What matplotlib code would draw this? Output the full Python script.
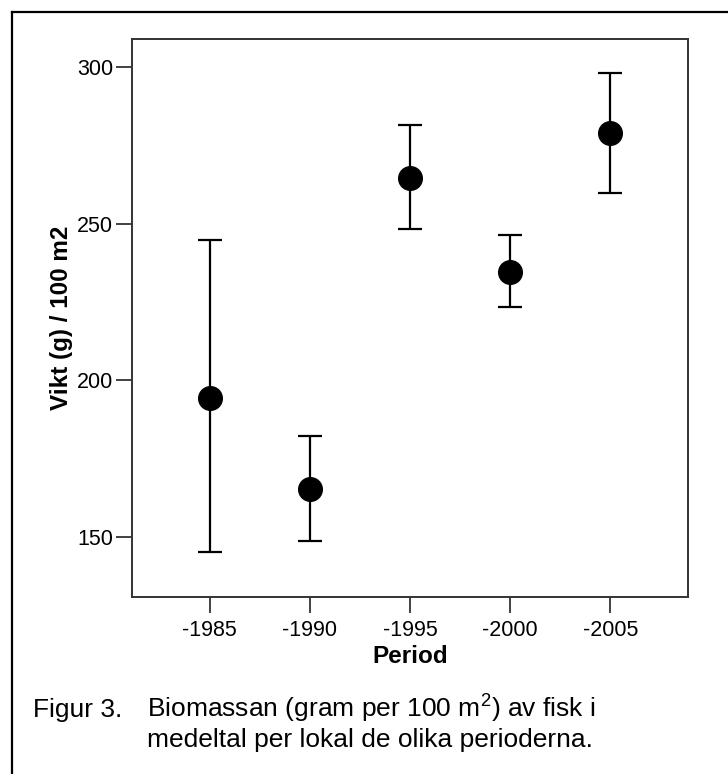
import matplotlib
matplotlib.use('Agg')
import matplotlib.pyplot as plt
from matplotlib.lines import Line2D

plt.rcParams['font.family'] = ['Liberation Sans', 'DejaVu Sans']
plt.rcParams['mathtext.fontset'] = 'custom'
plt.rcParams['mathtext.rm'] = 'Liberation Sans'

periods = ['-1985', '-1990', '-1995', '-2000', '-2005']
means = [194.5, 165.3, 264.7, 234.6, 278.8]
upper = [244.7, 182.2, 281.5, 246.4, 298.2]
lower = [145.1, 148.8, 248.2, 223.4, 259.8]

W, H = 728, 774
fig = plt.figure(figsize=(W / 100, H / 100), dpi=100)
ax = fig.add_axes([132 / W, 1 - 597 / H, (688 - 132) / W, (597 - 39) / H])

x = list(range(len(periods)))
yerr = [[m - lo for m, lo in zip(means, lower)], [u - m for m, u in zip(means, upper)]]
ax.errorbar(x, means, yerr=yerr, fmt='o', color='black', ms=17, ecolor='black',
            elinewidth=1.6, capsize=8.6, capthick=1.6)

ax.set_xlim(-0.775, 4.775)
ax.set_ylim(130.9, 308.9)
ax.set_xticks(x)
ax.set_xticklabels(periods)
ax.set_yticks([150, 200, 250, 300])
ax.tick_params(axis='both', direction='out', length=11.5, width=1.3, colors='#333333',
               labelcolor='black', labelsize=15.5)
ax.tick_params(axis='y', pad=2)
ax.tick_params(axis='x', pad=5)
for s in ax.spines.values():
    s.set_linewidth(1.4)
    s.set_color('#333333')

ax.set_xlabel('Period', fontsize=17.5, fontweight='bold', labelpad=3)
ax.set_ylabel('Vikt (g) / 100 m2', fontsize=17.5, fontweight='bold', labelpad=3)

# caption
fig.text(33 / W, 1 - 717 / H, 'Figur 3.', fontsize=19, va='baseline', ha='left')
fig.text(147 / W, 1 - 717 / H, r'Biomassan (gram per 100 m$^\mathrm{2}$) av fisk i', fontsize=19,
         va='baseline', ha='left')
fig.text(147 / W, 1 - 747 / H, 'medeltal per lokal de olika perioderna.', fontsize=19,
         va='baseline', ha='left')

# outer frame (top and left edges only visible)
fig.add_artist(Line2D([12 / W, 1.0], [1 - 12 / H, 1 - 12 / H], color='black', lw=1.6,
                      transform=fig.transFigure))
fig.add_artist(Line2D([12 / W, 12 / W], [0.0, 1 - 12 / H], color='black', lw=1.6,
                      transform=fig.transFigure))

fig.savefig('out.png', dpi=100)
